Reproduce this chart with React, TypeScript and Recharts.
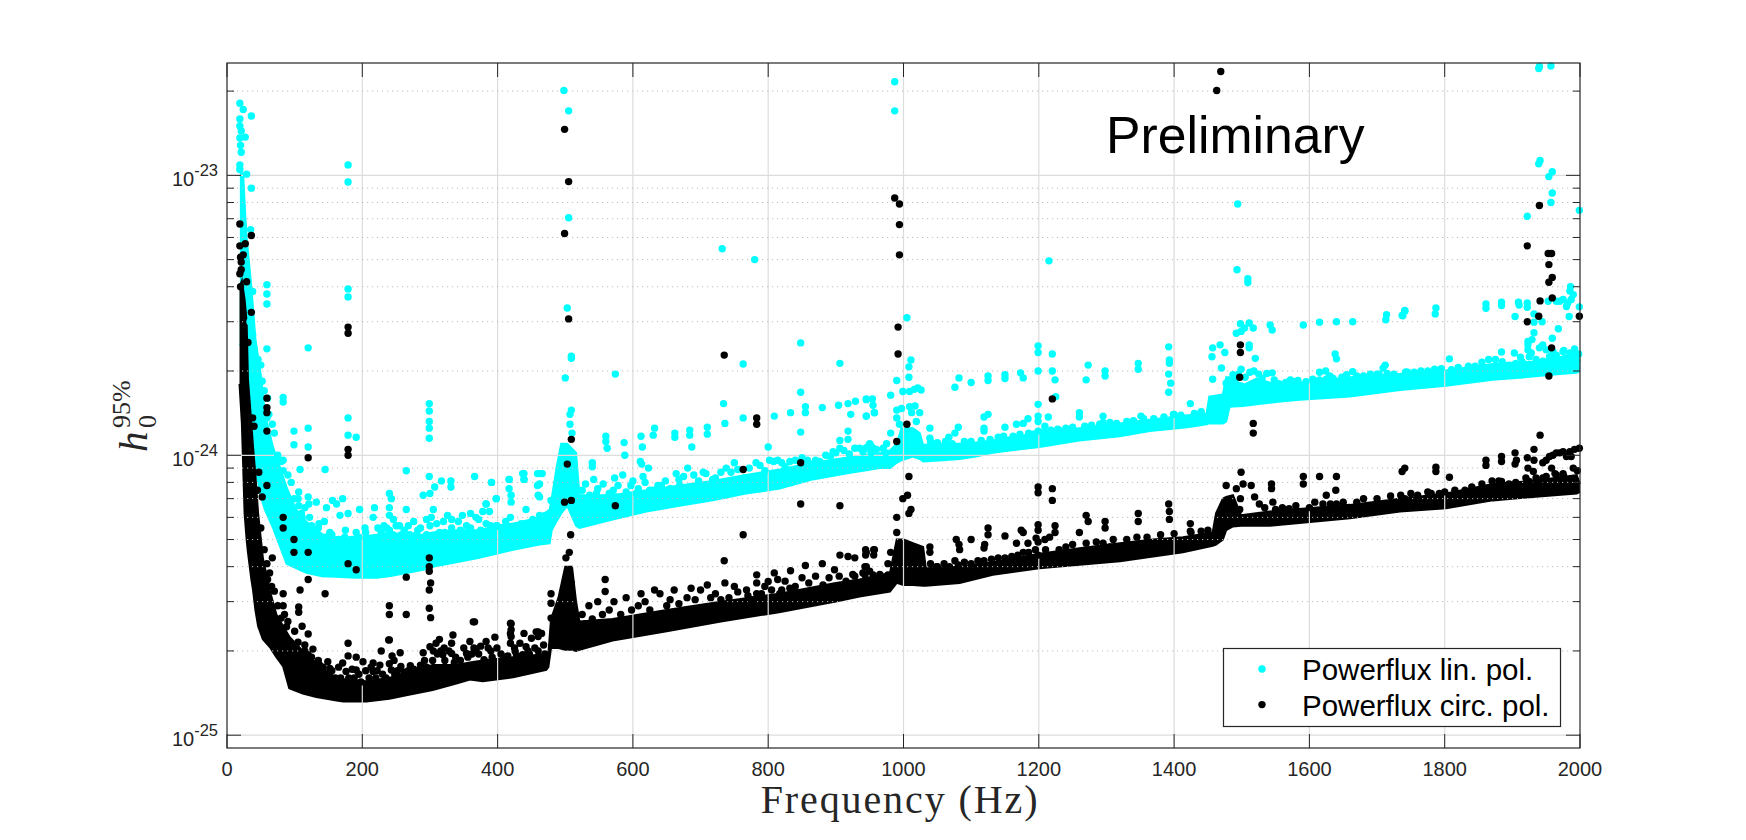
import React from 'react';
import { Area, ComposedChart, ReferenceLine, Scatter, XAxis, YAxis } from 'recharts';

// all strain values are in units of 1e-25
const xTicks = [0, 200, 400, 600, 800, 1000, 1200, 1400, 1600, 1800, 2000];
const yMajor = [1, 10, 100];
const yMinor = [2, 3, 4, 5, 6, 7, 8, 9, 20, 30, 40, 50, 60, 70, 80, 90, 200];
const yExponents: Record<number, string> = { 1: '-25', 10: '-24', 100: '-23' };
const seriesNames = ['Powerflux lin. pol.', 'Powerflux circ. pol.'];

const linBandFreq = [19, 24, 27, 29, 36, 42, 51, 56, 68, 88, 102, 117, 142, 152, 191, 221, 240, 265, 290, 304, 339, 373, 398, 423, 462, 477, 480, 487, 494, 503, 516, 521, 570, 620, 669, 718, 767, 817, 866, 915, 965, 980, 990, 997, 1014, 1024, 1029, 1058, 1083, 1107, 1132, 1157, 1201, 1260, 1320, 1364, 1420, 1448, 1452, 1472, 1477, 1482, 1502, 1522, 1541, 1561, 1586, 1660, 1734, 1802, 1871, 1930, 1970, 1995, 2000];
const linBandLow = [25, 24, 20, 18, 11, 9, 7, 6.4, 5.5, 4.1, 3.95, 3.8, 3.69, 3.69, 3.65, 3.65, 3.7, 3.8, 3.9, 4, 4.15, 4.3, 4.45, 4.6, 4.8, 4.85, 5.4, 5.8, 6.2, 6.6, 5.6, 5.5, 5.9, 6.3, 6.6, 6.9, 7.3, 7.6, 8.2, 8.6, 9, 9, 9.4, 9.6, 9.9, 9.7, 9.5, 9.6, 9.7, 9.9, 10.2, 10.4, 10.7, 11.3, 11.7, 12.2, 12.6, 12.9, 13, 13, 13.2, 14.9, 15, 15.2, 15.4, 15.6, 15.8, 16.2, 17.1, 17.7, 18.6, 19.1, 19.5, 19.7, 20];
const linBandHigh = [105, 100, 72, 60, 40, 26, 18.6, 14, 10.7, 7.7, 6.4, 5.8, 5.2, 5.1, 5.1, 5.2, 5.3, 5.2, 5.2, 5.3, 5.4, 5.4, 5.6, 5.7, 6, 6.4, 7, 9, 11, 11, 10.2, 7.2, 7.2, 7.5, 7.8, 8.1, 8.5, 8.9, 9.4, 9.8, 10.2, 10.4, 11, 12.5, 12.5, 12, 10.9, 11, 11, 11.1, 11.3, 11.6, 12, 12.5, 13, 13.4, 13.9, 14.1, 16.2, 16.5, 19, 19, 17.8, 18.8, 18.2, 17.8, 18.2, 19, 19.5, 20.1, 21.2, 21.6, 22.4, 23.3, 21.5];

const circBandFreq = [18.5, 22, 26, 29, 31, 36, 38.5, 42, 46, 53, 63, 73, 83, 92, 112, 132, 162, 172, 206, 240, 265, 304, 339, 359, 378, 423, 472, 475, 479, 490, 500, 510, 516, 521, 570, 650, 730, 816, 900, 935, 980, 990, 1000, 1014, 1029, 1033, 1083, 1132, 1201, 1260, 1320, 1369, 1413, 1457, 1462, 1472, 1477, 1487, 1499, 1541, 1660, 1734, 1802, 1871, 1930, 1995, 2000];
const circBandLow = [18, 13, 6.2, 5, 4.5, 3.6, 3.3, 2.8, 2.45, 2.2, 2.07, 1.9, 1.76, 1.47, 1.41, 1.37, 1.33, 1.32, 1.32, 1.35, 1.39, 1.45, 1.53, 1.58, 1.56, 1.61, 1.71, 1.75, 2.05, 2.05, 2.02, 2.02, 2, 2.02, 2.18, 2.35, 2.55, 2.75, 3, 3.13, 3.26, 3.5, 3.44, 3.44, 3.42, 3.42, 3.5, 3.74, 3.95, 4.06, 4.18, 4.35, 4.5, 4.75, 4.8, 5, 5.4, 5.57, 5.6, 5.6, 5.96, 6.3, 6.47, 6.9, 7.1, 7.3, 7.4];
const circBandHigh = [40, 42, 36, 30, 18.6, 13, 10.7, 8.5, 6.2, 4.3, 3.3, 2.7, 2.45, 2.25, 2, 1.8, 1.6, 1.58, 1.56, 1.6, 1.68, 1.78, 1.78, 1.82, 1.85, 1.9, 1.95, 1.95, 2.6, 3.1, 4, 4, 3, 2.55, 2.6, 2.8, 3, 3.2, 3.5, 3.6, 3.8, 5, 5, 4.85, 4.7, 3.95, 4, 4.15, 4.45, 4.65, 4.85, 5, 5.1, 5.3, 6.2, 7, 7.1, 7.2, 6.1, 6.3, 6.65, 7, 7.3, 7.9, 8.1, 8.5, 7.9];

const linDotsLow: [number, number][] = [
  [19, 181], [24, 172], [36, 163], [19, 159], [19, 150], [21, 144], [19, 136], [27, 137], [20, 128], [21, 121], [19, 109], [19, 105], [29, 101], [179, 109], [179, 94.7], [36, 90], [59, 40.7], [59, 37.7], [59, 34.7], [38, 38.5], [179, 39.3], [179, 36.8], [120, 24.2], [59, 24], [35, 64],
  [52, 18.4], [83, 16.1], [83, 15.5], [120, 12.5], [120, 10.7], [99, 12.2], [99, 10.9], [179, 13.6], [179, 11.8], [191, 11.6], [299, 15.3], [299, 14.4], [299, 13.2], [299, 12.5], [299, 11.5], [83, 9.6], [83, 8.8], [108, 8.9], [145, 8.9], [265, 8.8], [67, 12.9], [59, 13.6],
  [34, 30], [38, 27], [40, 24], [46, 22], [44, 19], [50, 21], [55, 17], [60, 16], [62, 14], [70, 12], [75, 10], [80, 9.5], [90, 8.5], [95, 8], [105, 7], [115, 6.5],
  [299, 8.4], [366, 8.4], [331, 8.1], [317, 8.1], [307, 7.7], [300, 7.3], [290, 7.2], [331, 7.7], [391, 8], [417, 8.2], [439, 8.6], [439, 8.2], [459, 8.6], [459, 7.8], [417, 7.6], [420, 7.2], [420, 6.8], [398, 7], [383, 6.7], [388, 6.3], [442, 6.4], [460, 7.2], [419, 6],
  [240, 7.3], [243, 7], [240, 6.5], [240, 6.1], [246, 5.9], [265, 6.4], [305, 6.4], [218, 6.5], [171, 7], [156, 6.9], [147, 6.5], [132, 6.8], [121, 6.7], [120, 7.1], [106, 7.4], [99, 7], [106, 6.6], [162, 6.7], [167, 6.1], [179, 6.2], [196, 6.4], [111, 6], [122, 6], [136, 5.7], [144, 5.8], [152, 5.3], [174, 5.1], [191, 5.3], [204, 5.5], [216, 6], [223, 5.5], [255, 5.6], [240, 5.4], [270, 5.2], [300, 5.6], [314, 5.3], [332, 5.9], [332, 5.5], [354, 5.6], [368, 6], [383, 5.7], [398, 5.6], [428, 5.6], [447, 5.7],
  [110, 6.2], [125, 5.6], [135, 5.5], [145, 5.1], [155, 5.2], [165, 5], [175, 5.4], [185, 5], [195, 5.1], [205, 5.3], [212, 5], [225, 5.1], [232, 5.6], [245, 5.2], [250, 5.6], [258, 5.2], [262, 5.4], [275, 5.1], [282, 5.4], [295, 5.2], [310, 5.2], [322, 5.3], [345, 5.4], [360, 5.5], [375, 5.4], [390, 5.6], [405, 5.5], [412, 5.8], [435, 5.7], [452, 5.9], [470, 6.1],
  [207, 5], [228, 5.3], [236, 5.5], [252, 5], [268, 5.6], [276, 5.8], [280, 5.2], [286, 5.5], [295, 5.9], [302, 6], [310, 5.7], [320, 5.8], [326, 6.1], [342, 5.8], [348, 6.1], [360, 6.2], [372, 5.9], [378, 6.3],
];
const linDotsMid: [number, number][] = [
  [498, 201], [505, 170], [505, 70.6], [732, 54.7], [780, 50], [987, 216], [987, 170],
  [503, 33.6], [509, 22.6], [509, 22.2], [500, 18.9], [574, 19.5], [509, 14.5], [507, 14], [507, 12.9], [510, 12], [734, 15.3], [736, 13], [763, 21.2], [763, 13.6], [848, 25.2], [848, 16.8], [848, 12.1], [906, 21.3], [918, 12.2], [918, 11.4], [906, 11.3],
  [809, 13.8], [833, 14.2], [855, 14.9], [855, 14.2], [880, 14.8], [904, 15.1], [918, 15.3], [922, 14], [929, 15.6], [945, 15.8], [945, 13.8], [955, 15.1], [957, 14.2],
  [560, 11.7], [560, 11.2], [562, 10.6], [587, 11.1], [588, 10], [612, 11.7], [614, 10.7], [632, 12.5], [630, 11.8], [662, 12], [662, 11.6], [684, 12.3], [684, 11.8], [687, 10.7], [710, 12.6], [710, 11.9], [800, 10.7], [540, 9.4], [540, 9.1], [611, 9.5], [613, 9.3], [623, 9],
  [437, 8.6], [439, 8.2], [462, 8.6], [466, 8.6], [391, 8], [417, 8.2], [462, 7.9], [398, 7], [383, 6.7], [462, 7.1], [479, 6.9], [462, 6.1], [399, 5.6],
  [542, 8.2], [573, 8.3], [585, 8.5], [600, 8.1], [615, 8.4], [642, 7.8], [664, 8.6], [681, 9], [704, 8.7], [718, 8.2], [738, 9], [750, 9.4], [765, 8.3], [782, 9.4], [802, 9.6], [814, 9.6], [832, 9.5], [864, 9.3], [876, 9.5], [896, 10.3], [906, 10.6], [928, 10.6], [947, 10.7], [546, 7.3], [571, 7.5], [575, 7.1], [605, 7.3], [630, 7.5], [669, 7.8],
  [525, 7.5], [530, 7.9], [536, 7.2], [548, 7.6], [556, 7.9], [565, 7.3], [578, 7.8], [590, 7.4], [597, 7.8], [608, 7.6], [618, 8], [625, 7.5], [637, 7.8], [648, 8.1], [655, 7.6], [668, 8.2], [675, 8.4], [690, 8.5], [697, 8.1], [708, 8.6], [722, 8.3], [730, 8.7], [745, 8.7], [755, 8.9], [772, 9], [788, 9.2], [795, 8.8], [808, 9.5], [820, 9.4], [825, 9.1], [840, 9.6], [850, 9.8], [858, 9.6], [870, 9.6], [885, 10], [892, 9.9], [900, 10.2], [912, 10.4], [920, 10.1], [935, 10.6], [940, 10.3], [952, 10.8], [960, 10.5], [970, 10.6],
  [1005, 31], [1011, 21.9], [1008, 20.7], [1008, 19], [990, 18.5], [981, 16.4], [945, 15.9], [954, 15.9], [957, 14.2], [945, 13.8], [1021, 17.4], [1009, 16.9], [999, 16.9], [1026, 17.1], [1016, 17.2],
  [990, 14.5], [997, 14.7], [1009, 14.9], [1017, 15], [1012, 14.2], [1024, 14.2], [990, 13.6], [994, 12.9], [1019, 13.2], [981, 12], [950, 11], [944, 10.6], [955, 10.6], [952, 10.2], [975, 11], [974, 10.2],
];
const linDotsHigh: [number, number][] = [
  [1199, 24.6], [1199, 23.3], [1220, 23], [1199, 20], [1220, 20], [1224, 18.6], [1273, 21], [1270, 18.6], [1298, 20], [1298, 19.2], [1225, 16.2], [1199, 15.2], [1260, 14.2], [1260, 13.7], [1295, 13.8], [1295, 13.1], [1215, 49.5],
  [1082, 18.9], [1076, 17.5], [1100, 18.2], [1125, 19.2], [1125, 18.5], [1150, 19.4], [1150, 18.8], [1173, 19.7], [1177, 18.9], [1125, 14], [1119, 13.7], [1119, 12.5], [1119, 12.2], [1150, 12.6], [1143, 11.5], [1167, 12.9], [1177, 13], [1184, 13.5], [1199, 13.8], [1199, 13.2], [1199, 12.2], [1214, 13.7], [1209, 12.7], [1230, 12.3], [1039, 12.5], [1039, 11.5], [1081, 12.6], [1076, 12], [1067, 11.6],
  [1040, 11.2], [1050, 11.1], [1062, 11.2], [1072, 11], [1090, 11.2], [1100, 11.2], [1115, 11.3], [1128, 11.4], [1140, 11.6], [1148, 11.7], [1162, 11.7], [1172, 11.9], [1185, 12], [1192, 11.9], [1208, 12.2], [1218, 12.3], [1228, 12.4], [1240, 12.5], [1250, 12.6], [1268, 12.7], [1278, 12.8], [1290, 12.9], [1305, 13.1], [1315, 13], [1330, 13.2], [1340, 13.3], [1355, 13.5], [1370, 13.5], [1385, 13.7], [1400, 14], [1410, 13.9], [1430, 14.1], [1440, 14.3],
  [1392, 24.4], [1393, 21.9], [1393, 21.3], [1392, 19.5], [1395, 18.1], [1392, 16.8], [1424, 15.3], [1347, 21.3], [1347, 20.3], [1351, 13.8], [1399, 14],
  [1457, 24.2], [1456, 22.5], [1468, 24.8], [1475, 23.3], [1470, 20.5], [1457, 18.7], [1487, 19.4], [1477, 18.1], [1499, 20.3], [1499, 17.7],
  [1494, 79], [1493, 46], [1509, 41.4], [1509, 42.7],
  [1498, 29.5], [1511, 29.7], [1517, 28.5], [1504, 28.5], [1492, 27.3], [1499, 27.7], [1511, 24.8], [1511, 24.2], [1520, 22.2], [1542, 29.2], [1545, 28], [1591, 29.2], [1615, 29.9], [1640, 30], [1638, 23], [1640, 22.1], [1615, 19.8], [1624, 20], [1630, 19.2], [1545, 19.7], [1583, 18.5],
  [1664, 30], [1714, 31.8], [1713, 30.5], [1741, 32.9], [1738, 31.5], [1712, 21], [1709, 20.5], [1664, 19.9], [1631, 19.1], [1703, 19.5], [1743, 19.8],
  [1485, 17.5], [1490, 18.5], [1495, 19.5], [1505, 19], [1512, 19.8], [1518, 20], [1525, 19.5], [1530, 18.8], [1537, 19.6], [1548, 18.6], [1555, 18], [1565, 18.2], [1572, 18.6], [1580, 18.3], [1595, 18.3], [1605, 18.7], [1615, 18.6], [1625, 18.7], [1635, 18.8], [1648, 19], [1655, 19.4], [1670, 19.2], [1680, 19.2], [1690, 19.5], [1700, 19.5], [1715, 19.6], [1725, 19.5], [1745, 19.8], [1755, 19.8], [1765, 20], [1775, 20], [1785, 20.3], [1795, 20.4], [1810, 20.2], [1820, 20.6], [1835, 20.8], [1845, 20.8], [1855, 21.5], [1865, 22], [1875, 22], [1885, 21.6], [1895, 21], [1905, 21.3], [1915, 21.5], [1925, 22.5], [1935, 22], [1945, 21.7], [1955, 22.5], [1965, 22.8], [1975, 23.5], [1985, 23.2], [1992, 24], [1998, 23], [1960, 22.2],
  [1940, 245], [1939, 241], [1957, 246], [1941, 113], [1939, 110], [1959, 103], [1954, 99], [1959, 86.5], [1957, 80], [1999, 75], [1922, 71.4],
  [1861, 34.7], [1861, 33.5], [1884, 35.2], [1884, 34.3], [1909, 35.2], [1910, 34.4], [1922, 35], [1922, 33.8], [1787, 33.6], [1786, 32], [1741, 32.7], [1737, 31.6], [1904, 31.3], [1932, 32], [1932, 29.9], [1944, 30], [1984, 31.3], [1999, 33.9], [1968, 28.3], [1932, 27.4], [1959, 26.2], [1923, 25.5], [1929, 25.9], [1976, 23.7], [1903, 23.2], [1884, 23.4], [1912, 22.4], [1807, 22.1], [1742, 19.8],
  [1923, 23.8], [1928, 23.2], [1940, 24.2], [1950, 23.8], [1960, 23.5], [1923, 24.8], [1945, 24.8],
  [1953, 35.5], [1965, 35.5], [1975, 36], [1985, 38.6], [1990, 37.5], [1982, 35], [1987, 36], [1980, 34], [1970, 35.5], [1986, 40],
];

const circDotsLow: [number, number][] = [
  [19, 67], [36, 61], [19, 56], [27, 57], [20, 51], [24, 52], [21, 49], [21, 46], [19, 44.5], [29, 41.7], [20, 40], [179, 28.7], [179, 27.3], [36, 32.4], [31, 25.3],
  [59, 16], [59, 14.8], [59, 14.2], [38, 13.6], [40, 12.7], [59, 12.2], [179, 10.5], [179, 10], [120, 9.8], [47, 8.7], [59, 7.8], [52, 7.1], [83, 6], [83, 5.5], [99, 5], [99, 4.5], [120, 4.5], [179, 4.1], [191, 3.9], [299, 4.3], [299, 4], [299, 3.85], [301, 3.5], [299, 3.3], [299, 2.84], [301, 2.63], [265, 3.67], [265, 2.7], [240, 2.9], [240, 2.7], [240, 2.19], [67, 4.3], [59, 4.1], [63, 3.8], [120, 3.6], [70, 3.27], [83, 3.2], [108, 3.3], [145, 3.2], [83, 2.9], [106, 2.87], [106, 2.75], [111, 2.45], [120, 2.3], [127, 2.03], [179, 2.13], [366, 2.54], [364, 2.54], [420, 2.5], [420, 2.38], [420, 2.25], [460, 2.34], [460, 2.25], [88, 2.44], [80, 2.62],
  [45, 7.5], [50, 5.5], [55, 4.6], [60, 3.6], [66, 3.4], [75, 2.9], [85, 2.7], [90, 2.55], [100, 2.35], [105, 2.15], [115, 2.1],
  [179, 1.92], [191, 1.9], [228, 2], [239, 2.19], [256, 1.97], [244, 1.92], [271, 1.77], [286, 1.78], [257, 1.76], [243, 1.71], [149, 1.83], [171, 1.81], [201, 1.83], [216, 1.81], [226, 1.78], [191, 1.71], [216, 1.69], [176, 1.69], [152, 1.73], [137, 1.78], [120, 1.94], [290, 1.97], [300, 2.07], [314, 2.2], [309, 2.13], [319, 1.94], [334, 2.28], [332, 2.13], [332, 1.96], [336, 1.82], [359, 2.16], [354, 1.96], [368, 2.02], [383, 2.16], [396, 2.24], [386, 2.05], [399, 2.05], [380, 1.86], [419, 2.51], [419, 2.31], [419, 2.13], [439, 2.31], [433, 2.13], [426, 1.99], [415, 1.92], [457, 2.34], [465, 2.31], [450, 2.22], [442, 2.07], [437, 1.94], [479, 2.96], [479, 2.62], [494, 2.65],
  [115, 2], [125, 1.9], [128, 1.8], [135, 1.85], [142, 1.75], [145, 1.65], [155, 1.7], [160, 1.6], [165, 1.75], [168, 1.6], [175, 1.55], [180, 1.6], [185, 1.72], [188, 1.6], [195, 1.65], [198, 1.55], [205, 1.7], [210, 1.6], [213, 1.75], [220, 1.6], [222, 1.7], [230, 1.65], [235, 1.6], [240, 1.8], [247, 1.85], [248, 1.65], [252, 1.7], [262, 1.68], [268, 1.7], [276, 1.72], [282, 1.7], [292, 1.85], [295, 1.75], [304, 1.85], [305, 2], [311, 1.95], [316, 2], [321, 2.05], [322, 1.85], [328, 2], [338, 1.9], [345, 1.85], [350, 2.05], [356, 1.9], [362, 1.95], [365, 2.05], [372, 1.95], [375, 2.08], [390, 2], [392, 1.9], [405, 1.95], [410, 1.9], [425, 2.05], [428, 1.92], [445, 2], [447, 1.95], [455, 2.05], [460, 2], [468, 2.1], [470, 1.95],
];
const circDotsMid: [number, number][] = [
  [499, 146], [505, 95], [499, 62], [505, 30.7], [987, 83], [994, 79], [994, 66.7], [994, 52], [992, 28.7], [992, 23],
  [509, 11.4], [503, 9.3], [499, 6.8], [509, 6.9], [574, 6.6], [508, 5.2], [735, 22.8], [783, 13.6], [783, 12.9], [763, 8.9], [848, 9.4], [848, 6.7], [906, 6.6], [763, 5.2], [735, 4.2],
  [506, 4.5], [501, 4.3], [506, 3.9], [502, 3.7], [509, 3.5], [479, 3.2], [559, 3.6], [559, 3.26], [612, 3.2], [632, 3.3], [661, 3.3], [686, 3.35], [710, 3.44], [736, 3.5], [750, 3.4], [768, 3.3], [783, 3.74], [783, 3.5], [800, 3.54], [809, 3.8], [814, 3.6], [833, 3.87], [855, 4.04], [880, 4.1], [898, 3.9], [906, 4.4], [918, 4.35], [928, 4.3], [945, 4.5], [957, 4.6], [945, 4], [928, 3.7], [881, 3.44], [832, 3.35], [783, 3.2], [817, 3.2],
  [525, 2.7], [530, 2.5], [535, 2.9], [540, 2.6], [548, 3], [555, 2.7], [565, 2.8], [572, 3], [582, 2.7], [590, 3.1], [598, 2.8], [608, 2.9], [618, 3], [625, 2.8], [640, 3.2], [650, 2.9], [655, 3.05], [668, 2.95], [680, 3.1], [692, 3.05], [700, 3.3], [715, 3.1], [722, 3.2], [730, 3.05], [742, 3.1], [755, 3.25], [770, 3.15], [775, 3.05], [790, 3.2], [795, 3.4], [805, 3.3], [820, 3.3], [825, 3.55], [840, 3.4], [850, 3.65], [860, 3.5], [870, 3.7], [890, 3.65], [905, 3.7], [915, 3.55], [925, 3.75], [940, 3.8], [950, 3.85], [965, 3.75],
  [944, 4.6], [956, 4.6], [944, 4.4], [956, 4.4], [981, 4.5], [943, 4], [955, 3.74], [943, 3.74], [944, 3.6], [977, 4.1], [977, 3.74],
  [1005, 12.9], [990, 11.2], [1008, 8.4], [1006, 7.2], [999, 7], [1011, 6.4], [990, 6], [1008, 6.2], [990, 5.3],
];
const circDotsHigh: [number, number][] = [
  [1469, 235], [1463, 201], [1220, 15.9], [1199, 7.7], [1199, 7.35], [1220, 7.6], [1220, 6.9],
  [1270, 6.1], [1273, 5.8], [1298, 5.8], [1298, 5.5], [1260, 5.3], [1295, 4.85], [1305, 4.7], [1125, 5.5], [1125, 5.2], [1120, 4.8], [1119, 4.66], [1100, 5], [1078, 5], [1082, 4.8], [1083, 4.6], [1150, 5.15], [1174, 5.4], [1177, 5.3], [1199, 5.65], [1199, 5.4], [1196, 5.06], [1199, 4.9], [1224, 5.6], [1224, 5.3], [1209, 5], [1216, 5.1], [1184, 4.85], [1167, 4.85], [1230, 4.6], [1119, 4.2], [1150, 4.3], [1169, 4.4], [1177, 4.5], [1199, 4.4], [1076, 4.2], [1068, 4], [1081, 4.06], [1039, 4.7], [1039, 4.5], [1040, 4.1], [1049, 4],
  [1050, 4], [1060, 4.1], [1090, 4.15], [1100, 4.1], [1110, 4.2], [1130, 4.25], [1140, 4.3], [1160, 4.35], [1185, 4.5], [1195, 4.6], [1210, 4.6], [1240, 4.7], [1250, 4.8], [1270, 4.85], [1285, 4.9], [1310, 5], [1330, 5], [1345, 5.1], [1360, 5.1], [1380, 5.2], [1400, 5.25], [1425, 5.3], [1440, 5.35], [1450, 5.4],
  [1392, 6.7], [1393, 6.3], [1393, 5.9], [1347, 6.2], [1347, 5.8], [1424, 5.7], [1424, 5.35],
  [1498, 24.8], [1498, 23.3], [1497, 19], [1517, 13], [1517, 12], [1499, 8.7], [1477, 7.8], [1544, 7.9], [1544, 7.6], [1591, 8.4], [1591, 7.9], [1615, 8.4], [1640, 8.4], [1639, 7.5], [1625, 7.2], [1546, 6.8], [1608, 6.8], [1631, 6.7],
  [1480, 6.9], [1492, 7.6], [1502, 7.9], [1514, 7.8], [1519, 7.1], [1526, 6.7], [1534, 6.5], [1497, 6.4], [1498, 7],
  [1550, 6.4], [1560, 6.5], [1570, 6.45], [1580, 6.6], [1600, 6.5], [1620, 6.7], [1640, 6.7], [1650, 6.8], [1670, 6.8], [1680, 7], [1700, 7], [1720, 7.15], [1735, 7.2], [1750, 7.3], [1760, 7.2], [1780, 7.3], [1800, 7.4], [1815, 7.5], [1830, 7.5], [1840, 7.7], [1855, 7.9], [1870, 8.1], [1880, 8.1], [1895, 7.9], [1905, 8], [1920, 8.3], [1935, 8.3], [1950, 8.4], [1965, 8.5], [1975, 8.6], [1990, 9], [1996, 8.8],
  [1940, 78], [1922, 56], [1953, 52.6], [1958, 52.6], [1954, 48], [1959, 43.2], [1954, 41.5], [1941, 35.6], [1959, 36.5], [1939, 31.4], [1922, 30], [1999, 31.4], [1958, 24.2], [1954, 19.2], [1941, 11.8], [1932, 10.5],
  [1861, 9.6], [1861, 9.2], [1884, 9.9], [1884, 9.5], [1904, 10.2], [1906, 9.6], [1904, 9.3], [1922, 9.8], [1932, 9.6], [1923, 9], [1931, 8.75], [1958, 9], [1963, 8.6], [1976, 8.4], [1945, 8.3], [1884, 8.06], [1925, 8.06], [1940, 7.85], [1787, 9.06], [1787, 8.75], [1807, 8.35], [1775, 7.4], [1792, 7.3], [1741, 9], [1737, 8.75], [1741, 7],
  [1945, 9.4], [1955, 9.9], [1965, 10.2], [1975, 10.3], [1985, 10.3], [1992, 10.5], [1999, 10.6], [1960, 10], [1970, 10.2], [1980, 9.9], [1987, 9.9], [1950, 9.6],
];

const toBand = (freq: number[], low: number[], high: number[]) =>
  freq.map((f, i) => ({ f, range: [low[i], high[i]] }));
const toDots = (pairs: [number, number][]) => pairs.map(([f, v]) => ({ f, v }));

const linBand = toBand(linBandFreq, linBandLow, linBandHigh);
const circBand = toBand(circBandFreq, circBandLow, circBandHigh);
const linDots = toDots([...linDotsLow, ...linDotsMid, ...linDotsHigh]);
const circDots = toDots([...circDotsLow, ...circDotsMid, ...circDotsHigh]);

const CYAN = '#00ffff';
const BLACK = '#000000';
const AXIS = '#262626';
const SANS = '"Liberation Sans", Arial, sans-serif';
const SERIF = '"Liberation Serif", serif';

const WIDTH = 1746;
const HEIGHT = 840;
const LEFT = 227;
const RIGHT = 1580;
const TOP = 63;
const BOTTOM = 748;

const XTick = ({ x, payload }: any) => (
  <g>
    <line x1={x} x2={x} y1={BOTTOM} y2={BOTTOM - 14} stroke={AXIS} />
    <line x1={x} x2={x} y1={TOP} y2={TOP + 14} stroke={AXIS} />
    <text x={x} y={776} textAnchor="middle" fontFamily={SANS} fontSize={20} fill={AXIS}>
      {payload.value}
    </text>
  </g>
);

const YTick = ({ y, payload }: any) => {
  const exponent = yExponents[payload.value];
  const len = exponent ? 14 : 7;
  return (
    <g>
      <line x1={LEFT} x2={LEFT + len} y1={y} y2={y} stroke={AXIS} />
      <line x1={RIGHT} x2={RIGHT - len} y1={y} y2={y} stroke={AXIS} />
      {exponent && (
        <text x={218} y={y + 11} textAnchor="end" fontFamily={SANS} fontSize={20} fill={AXIS}>
          10
          <tspan dy={-10} fontSize={16.5}>{exponent}</tspan>
        </text>
      )}
    </g>
  );
};

const dotShape = (color: string) => (props: any) => (
  <circle cx={props.cx} cy={props.cy} r={3.7} fill={color} />
);

const App = () => (
  <div style={{ position: 'absolute', left: 0, top: 0, width: WIDTH, height: HEIGHT, background: '#fff' }}>
    <ComposedChart width={WIDTH} height={HEIGHT} margin={{ top: TOP, right: WIDTH - RIGHT, bottom: 0, left: 0 }}>
      <XAxis
        type="number"
        dataKey="f"
        domain={[0, 2000]}
        ticks={xTicks}
        interval={0}
        height={HEIGHT - BOTTOM}
        axisLine={false}
        tickLine={false}
        tick={XTick}
      />
      <YAxis
        type="number"
        scale="log"
        domain={[0.9, 252]}
        ticks={[...yMajor, ...yMinor].sort((a, b) => a - b)}
        interval={0}
        width={LEFT}
        axisLine={false}
        tickLine={false}
        tick={YTick}
      />
      {xTicks.slice(1, -1).map((t) => (
        <ReferenceLine key={`x${t}`} x={t} stroke="#dcdcdc" strokeWidth={1.2} />
      ))}
      {yMajor.map((t) => (
        <ReferenceLine key={`y${t}`} y={t} stroke="#dcdcdc" strokeWidth={1.2} />
      ))}
      {yMinor.map((t) => (
        <ReferenceLine key={`m${t}`} y={t} stroke="#bdbdbd" strokeDasharray="1.2 3.8" />
      ))}
      <Area
        data={linBand}
        dataKey="range"
        type="linear"
        fill={CYAN}
        fillOpacity={1}
        stroke={CYAN}
        strokeWidth={2}
        dot={false}
        activeDot={false}
        isAnimationActive={false}
      />
      <Scatter data={linDots} dataKey="v" name={seriesNames[0]} shape={dotShape(CYAN)} isAnimationActive={false} />
      <Area
        data={circBand}
        dataKey="range"
        type="linear"
        fill={BLACK}
        fillOpacity={1}
        stroke={BLACK}
        strokeWidth={2}
        dot={false}
        activeDot={false}
        isAnimationActive={false}
      />
      <Scatter data={circDots} dataKey="v" name={seriesNames[1]} shape={dotShape(BLACK)} isAnimationActive={false} />
    </ComposedChart>

    <svg width={WIDTH} height={HEIGHT} style={{ position: 'absolute', left: 0, top: 0, pointerEvents: 'none' }}>
      <rect x={LEFT} y={TOP} width={RIGHT - LEFT} height={BOTTOM - TOP} fill="none" stroke={AXIS} strokeWidth={1.2} />
      <text x={1106} y={153} fontFamily={SANS} fontSize={51.7} fill="#000">Preliminary</text>
      <text x={900} y={813} textAnchor="middle" fontFamily={SERIF} fontSize={40} letterSpacing={1.9} fill={AXIS}>Frequency (Hz)</text>
      <g transform="translate(147,452) rotate(-90)" fill={AXIS} fontFamily={SERIF}>
        <text x={0} y={0} fontSize={41} fontStyle="italic">h</text>
        <text x={24} y={9} fontSize={26}>0</text>
        <text x={24} y={-17} fontSize={26}>95%</text>
      </g>
      <rect x={1223.5} y={648.5} width={337} height={78} fill="#fff" stroke={AXIS} strokeWidth={1.2} />
      {seriesNames.map((name, i) => (
        <g key={name}>
          <circle cx={1262} cy={669 + i * 35.6} r={3.7} fill={i === 0 ? CYAN : BLACK} />
          <text x={1302} y={680 + i * 36} fontFamily={SANS} fontSize={29.5} fill="#000">{name}</text>
        </g>
      ))}
    </svg>
  </div>
);

export default App;
